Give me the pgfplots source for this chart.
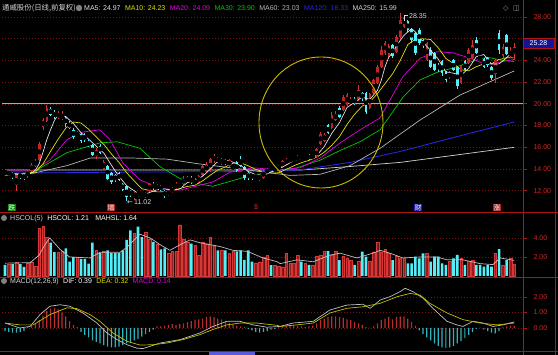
\documentclass[border=0pt]{standalone}
\usepackage{fontspec}
\setmainfont{Liberation Sans}
\newfontfamily\cjk{Noto Sans CJK SC}
\newfontfamily\djv{DejaVu Sans}
\usepackage{pgfplots}
\usepackage{pgfplotstable}
\pgfplotsset{compat=1.18}

\definecolor{upc}{RGB}{190,38,38}
\definecolor{upv}{RGB}{150,28,28}
\definecolor{upedge}{RGB}{215,55,55}
\definecolor{dnc}{RGB}{84,238,248}
\definecolor{macdup}{RGB}{185,45,45}
\definecolor{macddn}{RGB}{45,180,190}
\definecolor{axred}{RGB}{175,20,20}
\definecolor{gridred}{RGB}{125,20,20}
\definecolor{lblred}{RGB}{205,40,40}
\definecolor{ma5}{RGB}{225,225,225}
\definecolor{ma10}{RGB}{225,225,0}
\definecolor{ma20}{RGB}{225,0,225}
\definecolor{ma30}{RGB}{0,200,0}
\definecolor{ma60}{RGB}{180,180,180}
\definecolor{ma120}{RGB}{40,40,240}
\definecolor{ma250}{RGB}{210,210,210}
\definecolor{lvl}{RGB}{200,190,0}
\definecolor{boxblue}{RGB}{20,20,150}
\definecolor{txt}{RGB}{215,215,215}
\definecolor{sgreen}{RGB}{0,130,0}
\definecolor{sred}{RGB}{165,35,35}
\definecolor{sblue}{RGB}{30,30,170}
\definecolor{datebox}{RGB}{90,90,220}

\pgfplotstableread{
i o h l c v
1 13.5 13.8 13.4 13.7 1.2
3 12.5 13.5 12.0 13.4 1.45
6 13.3 13.9 13.2 13.8 1.4
7 13.8 14.5 13.7 14.4 1.5
8 14.3 14.9 14.2 14.7 1.0
9 14.8 16.5 14.7 16.3 5.0
10 17.9 18.7 17.6 18.5 5.2
11 18.4 19.9 18.3 19.6 4.1
14 18.8 19.3 18.6 19.1 2.5
15 18.6 19.3 18.5 19.0 2.6
19 17.0 17.5 16.9 17.3 2.0
24 15.2 15.9 14.9 15.7 2.7
26 14.0 14.8 13.9 14.6 2.6
34 11.4 11.9 11.1 11.8 4.5
37 11.4 11.9 11.3 11.8 4.6
38 12.0 12.7 11.9 12.6 3.9
40 12.2 12.6 12.1 12.4 3.4
43 11.6 12.1 11.5 11.9 2.4
44 11.9 12.3 11.8 12.2 2.6
45 12.2 12.8 12.1 12.6 2.6
46 12.3 12.7 12.2 12.6 5.4
47 12.6 13.3 12.5 13.1 3.9
48 12.8 13.3 12.7 13.2 3.6
50 12.6 13.2 12.4 13.0 3.2
51 12.8 13.4 12.7 13.3 2.2
52 13.4 14.4 13.3 14.3 3.6
53 13.8 14.6 13.6 14.4 3.4
54 13.8 15.0 13.7 14.9 4.1
55 14.7 15.4 14.5 15.2 3.2
57 14.6 15.0 14.4 14.8 2.7
59 14.3 14.9 14.2 14.8 2.4
60 14.0 14.4 13.9 14.3 2.6
66 13.2 13.5 13.1 13.4 1.4
67 13.1 13.5 12.9 13.4 1.5
68 13.2 13.9 13.1 13.8 2.0
69 13.6 14.1 13.5 14.0 2.2
71 13.9 14.2 13.8 14.0 1.15
72 13.9 14.4 13.8 14.3 1.0
73 14.2 14.8 14.1 14.7 0.98
74 14.5 15.0 14.4 14.9 2.39
75 14.7 15.0 14.6 14.9 1.33
76 14.7 15.1 14.6 15.0 1.33
77 14.8 15.3 14.7 15.1 2.21
79 14.9 15.3 14.8 15.2 1.33
81 15.0 15.4 14.9 15.3 1.16
82 15.1 15.9 15.0 15.8 2.04
83 16.3 17.4 16.2 17.2 2.21
84 16.6 17.3 16.5 17.1 2.63
86 17.8 19.2 17.7 19.0 2.21
87 18.5 19.3 18.4 19.1 2.63
89 19.4 20.8 19.3 20.6 2.04
90 19.9 21.0 19.8 20.8 1.86
91 20.0 20.6 19.9 20.4 1.68
93 20.4 21.7 20.3 21.3 1.51
96 19.6 21.0 19.5 20.9 1.51
97 21.0 22.3 20.9 22.2 2.56
98 21.9 23.6 21.8 23.4 3.6
99 23.4 25.3 23.3 25.0 2.56
100 24.7 25.8 24.5 25.6 2.84
101 24.5 25.5 24.3 25.3 2.39
103 24.8 26.3 24.7 26.2 2.04
104 26.2 28.35 26.0 27.7 1.86
105 27.1 28.2 27.0 28.0 1.86
111 24.0 25.7 23.9 25.6 2.39
117 22.5 23.0 22.3 22.8 1.51
120 21.9 23.6 21.8 23.5 1.86
122 23.8 25.1 23.7 25.0 1.51
123 24.2 25.9 24.1 25.4 1.68
129 22.7 24.1 21.9 24.0 2.39
131 24.4 25.5 24.1 25.2 1.16
133 24.4 25.2 24.2 24.8 1.86
134 24.6 25.6 24.0 25.28 1.21
}\up

\pgfplotstableread{
i o h l c v
0 13.8 13.9 13.5 13.6 1.16
2 13.6 13.7 13.1 13.3 1.25
4 13.5 13.6 13.1 13.3 1.25
5 13.4 13.5 13.0 13.2 0.95
12 19.5 19.7 18.9 19.0 3.5
13 19.2 19.4 18.6 18.9 2.5
16 18.8 18.9 17.9 18.1 2.9
17 18.2 18.4 17.7 17.8 1.5
18 17.6 17.8 16.8 16.9 2.0
20 17.2 17.3 16.4 16.6 1.8
21 17.1 17.3 16.5 16.7 1.8
22 16.5 16.7 16.0 16.2 1.3
23 16.2 16.3 15.2 15.3 3.5
25 16.1 16.3 15.4 15.5 2.4
27 14.3 14.4 13.0 13.1 2.7
28 13.6 13.7 12.6 12.8 2.4
29 13.4 13.5 12.8 13.0 2.4
30 13.6 13.7 12.9 13.0 2.4
31 12.6 12.7 12.0 12.1 2.7
32 12.4 12.4 11.02 11.4 3.8
33 12.0 12.1 11.4 11.6 4.8
35 11.8 11.9 11.4 11.5 5.2
36 11.7 11.8 11.3 11.4 4.1
39 12.6 12.8 12.1 12.2 3.6
41 12.4 12.5 12.0 12.1 2.8
42 12.0 12.1 11.3 11.5 2.9
49 13.2 13.3 12.6 12.8 3.4
56 15.0 15.1 14.5 14.7 2.7
58 14.8 14.9 14.4 14.5 2.7
61 14.6 14.7 13.7 13.8 2.6
62 14.8 15.2 14.2 14.3 2.7
63 14.2 14.3 13.0 13.2 1.7
64 13.6 13.7 13.0 13.2 2.7
65 13.5 13.6 13.0 13.2 1.5
70 14.2 14.3 13.8 13.9 1.15
78 15.2 15.3 14.8 14.9 1.51
80 15.3 15.4 14.8 14.9 1.16
85 18.0 18.1 17.2 17.3 2.63
88 19.6 19.8 18.7 18.8 1.68
92 20.4 20.6 19.9 20.1 1.16
94 21.0 21.1 20.3 20.5 2.56
95 21.0 21.1 19.1 19.2 2.04
102 25.4 25.5 24.2 24.4 1.68
106 27.6 27.7 26.6 26.8 1.33
107 26.9 27.0 25.6 25.9 1.33
108 26.5 26.6 24.5 24.7 2.04
109 26.8 27.0 25.4 25.6 1.86
110 25.9 26.0 25.1 25.3 2.39
112 25.0 25.2 23.3 23.4 1.51
113 24.7 24.8 23.0 23.1 2.04
114 23.6 23.8 22.9 23.2 2.04
115 23.9 24.0 22.6 22.8 1.33
116 22.9 23.0 22.0 22.2 1.16
118 24.0 24.1 23.0 23.1 1.86
119 23.4 23.5 21.4 21.6 2.21
121 23.9 24.0 23.0 23.1 1.16
124 25.9 26.2 24.6 24.7 1.16
125 24.3 24.4 24.0 24.2 1.16
126 24.1 24.2 23.3 23.4 0.98
127 24.2 24.3 23.4 23.6 1.16
128 23.4 23.5 22.2 22.4 0.98
130 26.5 26.8 24.6 25.0 2.84
132 26.3 26.4 24.5 24.6 1.68
}\down

\pgfplotstableread{
i m
0 -0.2
1 -0.25
2 -0.3
3 -0.3
4 -0.25
5 -0.2
6 0.05
7 0.15
8 0.3
9 0.5
10 0.8
11 1.1
12 1.25
13 1.3
14 1.2
15 1.0
16 0.75
17 0.45
18 0.2
19 0.05
20 -0.25
21 -0.45
22 -0.6
23 -0.8
24 -0.9
25 -1.0
26 -1.1
27 -1.2
28 -1.25
29 -1.25
30 -1.2
31 -1.1
32 -1.0
33 -0.95
34 -0.8
35 -0.7
36 -0.55
37 -0.4
38 -0.25
39 -0.1
40 0.1
41 0.1
42 0.15
43 0.2
44 0.25
45 0.2
46 0.25
47 0.3
48 0.4
49 0.45
50 0.5
51 0.55
52 0.6
53 0.7
54 0.75
55 0.7
56 0.6
57 0.55
58 0.45
59 0.35
60 0.25
61 0.15
62 0.1
63 0.05
64 -0.05
65 -0.15
66 -0.25
67 -0.3
68 -0.25
69 -0.2
70 -0.1
71 -0.05
72 0.05
73 0.1
74 0.12
75 0.15
76 0.15
77 0.12
78 0.1
79 0.08
80 0.1
81 0.15
82 0.3
83 0.5
84 0.6
85 0.7
86 0.75
87 0.75
88 0.7
89 0.65
90 0.55
91 0.5
92 0.4
93 0.3
94 0.2
95 0.05
96 0.02
97 0.1
98 0.3
99 0.5
100 0.6
101 0.7
102 0.55
103 0.7
104 0.75
105 0.75
106 0.6
107 0.4
108 0.15
109 -0.15
110 -0.4
111 -0.6
112 -0.8
113 -1.0
114 -1.15
115 -1.25
116 -1.3
117 -1.25
118 -1.15
119 -1.0
120 -0.85
121 -0.65
122 -0.45
123 -0.25
124 -0.05
125 0.02
126 -0.1
127 -0.2
128 -0.3
129 -0.35
130 -0.2
131 0.05
132 0.1
133 0.15
134 0.14
}\macd

\newcommand\tf{\fontsize{7.4}{9}\selectfont}
\newcommand\smf{\fontsize{7}{8.5}\selectfont}
\newcommand\lf{\fontsize{7}{8}\selectfont}

\pgfplotsset{
  panel/.style={
    scale only axis, width=521pt, xmin=-0.79, xmax=136.3,
    anchor=south west, clip=false,
    axis line style={draw=none},
    xtick=\empty,
    ytick pos=right, yticklabel pos=right,
    tick align=outside, major tick length=4pt,
    ytick style={draw=axred, line width=0.6pt},
    ymajorgrids, major grid style={gridred, dash pattern=on 1pt off 2pt, line width=0.5pt},
    yticklabel style={font=\lf, text=lblred, /pgf/number format/.cd, fixed, fixed zerofill, precision=2, assume math mode=true},
    yticklabel shift=3pt,
  },
  wick/.style={only marks, mark=none, forget plot,
    error bars/.cd, y dir=both, y explicit, error mark=none,
    error bar style={line width=0.7pt, draw=#1}},
  body/.style={only marks, mark=none, forget plot,
    error bars/.cd, y dir=both, y explicit, error mark=none,
    error bar style={line width=2.6pt, draw=#1}},
}

\begin{document}
\begin{tikzpicture}[x=1pt,y=1pt]
\fill[black] (0,0) rectangle (558,355);

% ---------------- price panel ----------------
\begin{axis}[panel, at={(2pt,143pt)}, height=202pt, ymin=10.028, ymax=28.645,
  ytick={12,14,16,18,20,22,24,28}, extra y ticks={26}, extra y tick labels={},
  extra y tick style={grid=major}]
\addplot[lvl, line width=1.2pt, forget plot] coordinates {(-0.79,20) (136.3,20)};
% MA250
\addplot[ma250, line width=0.7pt] coordinates {(0,13.9) (40,13.9) (78,13.9) (90,14.2) (104,14.6) (117,15.2) (134,15.99)};
% MA120
\addplot[ma120, line width=0.8pt] coordinates {(0,13.6) (30,13.7) (60,13.75) (77.6,13.9) (90.8,14.6) (103.9,15.6) (117,16.8) (134,18.33)};
% MA60
\addplot[ma60, line width=0.7pt] coordinates {(0,13.4) (7.4,13.6) (16.3,14.3) (22.4,15.0) (33.7,15.0) (42.6,14.9) (51.3,14.45) (61.8,14.0) (75,13.4) (82.9,13.5) (90.8,14.3) (98.7,15.9) (109.2,18.5) (119.7,20.8) (134,23.03)};
% MA30
\addplot[ma30, line width=0.7pt] coordinates {(0,13.4) (7.4,13.7) (16.3,15.5) (25,16.4) (29.5,16.5) (35.5,15.9) (40.8,14.2) (46.1,13.1) (51.3,12.6) (54.7,12.4) (63.7,13.3) (72.4,13.9) (76.8,14.1) (82.9,14.8) (88.2,15.7) (93.4,16.5) (98.7,17.6) (104.7,20.6) (109.2,22.2) (113.7,22.9) (117.9,23.3) (122.4,23.85) (126.8,24.3) (131,24.0) (134,23.9)};
% MA20
\addplot[ma20, line width=0.7pt] coordinates {(0,13.8) (7.4,13.8) (11.8,14.8) (16.3,16.7) (20.5,17.4) (25,17.6) (27.6,16.7) (31.1,14.5) (35.5,13.0) (40.8,12.2) (46.1,12.05) (51.3,12.5) (54.7,12.8) (59.2,13.7) (65.3,14.1) (72.4,13.9) (77.6,14.1) (82.9,15.0) (88.2,16.4) (93.4,17.6) (98.7,18.7) (104.7,22.5) (109.2,24.2) (113.7,24.8) (117.9,24.7) (122.4,24.2) (126.8,23.6) (131,23.9) (134,24.09)};
% MA10
\addplot[ma10, line width=0.7pt] coordinates {(0,13.6) (4,13.53) (8,13.7) (10,14.46) (12,15.62) (14,16.75) (16,17.76) (18,18.32) (20,18.23) (22,17.66) (24,16.96) (26,16.26) (28,15.38) (30,14.59) (32,13.65) (34,12.89) (36,12.17) (38,12.02) (40,11.88) (42,11.89) (44,11.96) (46,12.19) (48,12.38) (50,12.5) (52,12.9) (54,13.42) (56,13.89) (58,14.19) (60,14.52) (62,14.57) (64,14.28) (66,13.95) (68,13.74) (70,13.62) (72,13.64) (74,13.96) (76,14.29) (78,14.57) (80,14.79) (82,15.07) (84,15.54) (86,16.18) (88,16.97) (90,18.1) (92,19.04) (94,19.79) (96,20.17) (98,20.94) (100,21.86) (102,22.78) (104,23.99) (106,25.46) (108,25.96) (110,25.99) (112,25.92) (114,25.16) (116,24.18) (118,23.71) (120,23.13) (122,23.04) (124,23.42) (126,23.68) (128,23.69) (130,24.08) (132,24.25) (134,24.23)};
% candles
\addplot[wick=dnc] table[x=i, y expr={(\thisrow{h}+\thisrow{l})/2}, y error expr={(\thisrow{h}-\thisrow{l})/2}] {\down};
\addplot[body=dnc] table[x=i, y expr={(\thisrow{o}+\thisrow{c})/2}, y error expr={max(abs(\thisrow{o}-\thisrow{c})/2,0.04)}] {\down};
\addplot[wick=upedge] table[x=i, y expr={(\thisrow{h}+\thisrow{l})/2}, y error expr={(\thisrow{h}-\thisrow{l})/2}] {\up};
\addplot[body=upc] table[x=i, y expr={(\thisrow{o}+\thisrow{c})/2}, y error expr={max(abs(\thisrow{o}-\thisrow{c})/2,0.04)}] {\up};
% MA5
\addplot[ma5, line width=0.7pt] coordinates {(0,13.6) (2,13.56) (4,13.46) (6,13.4) (8,13.88) (9,14.48) (10,15.54) (11,16.7) (12,17.62) (13,18.46) (14,19.02) (16,18.82) (18,18.18) (20,17.34) (22,16.74) (24,16.1) (26,15.46) (28,14.34) (30,13.3) (32,12.46) (34,11.98) (36,11.54) (38,11.82) (40,12.08) (42,12.16) (44,12.02) (46,12.16) (48,12.74) (50,12.94) (52,13.32) (54,13.98) (56,14.7) (58,14.82) (60,14.62) (62,14.34) (64,13.76) (66,13.46) (68,13.4) (70,13.7) (72,14.0) (74,14.36) (76,14.76) (78,14.96) (80,15.02) (82,15.22) (84,16.06) (86,17.28) (88,18.26) (90,19.66) (92,20.14) (94,20.62) (96,20.4) (97,20.82) (98,21.24) (99,22.14) (100,23.42) (101,24.3) (102,24.74) (103,25.3) (104,25.84) (105,26.32) (106,26.62) (107,26.92) (108,26.62) (109,26.2) (110,25.66) (112,24.92) (114,24.12) (116,22.94) (118,22.82) (120,22.64) (122,23.26) (124,24.34) (126,24.54) (128,23.66) (130,23.68) (132,24.24) (134,24.97)};
\end{axis}

% ---------------- volume panel ----------------
\begin{axis}[panel, at={(2pt,78pt)}, height=65pt, ymin=-0.105, ymax=6.737, ytick={2,4}]
\addplot[ybar, bar width=2.6pt, bar shift=0pt, fill=upv, draw=upedge, line width=0.3pt, forget plot] table[x=i, y=v] {\up};
\addplot[ybar, bar width=2.6pt, bar shift=0pt, fill=dnc, draw=none, forget plot] table[x=i, y=v] {\down};
\addplot[ma5!85!black, line width=0.7pt] coordinates {(0,1.35) (6.6,1.4) (9,2.2) (10.5,3.3) (11.8,4.0) (14.5,2.8) (17,2.0) (22.4,1.9) (25,2.5) (30.3,2.5) (32,3.0) (35.5,4.4) (38.2,4.0) (40.8,3.3) (43.4,2.7) (46.1,3.3) (48.7,3.8) (51.3,3.5) (53.9,3.3) (56.6,3.1) (60,2.7) (63.7,2.6) (67.9,1.9) (71.6,1.5) (72.4,1.3) (76.8,1.7) (81.1,1.5) (85.5,2.2) (88.2,2.4) (92.6,1.9) (96.8,2.4) (98.7,2.7) (101.3,2.4) (104.7,1.9) (109.2,2.0) (113.7,2.0) (116.3,1.7) (120.5,1.7) (125,1.3) (128.4,1.2) (130.3,1.9) (134,1.64)};
\end{axis}

% ---------------- MACD panel ----------------
\begin{axis}[panel, at={(2pt,4pt)}, height=74pt, ymin=-1.484, ymax=3.29, ytick={0,1,2}]
\addplot[ybar, bar width=1.2pt, bar shift=0pt, fill=macdup, draw=none, restrict y to domain=0:10, forget plot] table[x=i, y=m] {\macd};
\addplot[ybar, bar width=1.2pt, bar shift=0pt, fill=macddn, draw=none, restrict y to domain=-10:0, forget plot] table[x=i, y=m] {\macd};
\addplot[ma5!85!black, line width=0.7pt] coordinates {(0,0.32) (3.9,0.0) (6.6,0.1) (9.2,0.86) (11.8,1.4) (14.5,1.5) (17.1,1.4) (20.5,0.97) (24.2,0.32) (26.8,-0.32) (29.5,-0.75) (32.1,-1.08) (34.7,-1.3) (36.3,-1.33) (38.2,-1.18) (40.8,-0.97) (46.1,-0.75) (51.3,-0.32) (54.7,0.1) (58.4,0.43) (61.8,0.43) (65.3,0.2) (68.9,0.05) (72.4,0.1) (75.8,0.32) (81.1,0.43) (85.5,1.16) (90,1.48) (94.2,1.53) (96.1,1.27) (98.7,1.8) (101.3,2.02) (103.9,2.34) (105.3,2.56) (107.4,2.34) (110,1.92) (112.6,1.27) (116.3,0.43) (118.9,0.2) (120.5,0.1) (123.2,0.43) (125.8,0.32) (128.4,0.1) (131,0.2) (134,0.39)};
\addplot[ma10!85!black, line width=0.7pt] coordinates {(0,0.32) (3.9,0.2) (7.4,0.2) (11.8,0.86) (16.3,1.3) (18.9,1.25) (22.4,0.86) (25,0.43) (28.4,-0.32) (32.1,-0.86) (35.5,-1.1) (38.9,-1.08) (42.6,-0.97) (46.8,-0.75) (51.3,-0.43) (54.7,-0.1) (58.4,0.2) (61.8,0.32) (66.3,0.32) (71.6,0.17) (72.4,0.1) (76.8,0.2) (81.1,0.32) (85.5,0.97) (90,1.27) (94.2,1.37) (98.7,1.59) (103.2,2.02) (106.6,2.23) (109.2,2.13) (111.8,1.59) (116.3,0.97) (120.5,0.54) (125,0.32) (129.5,0.2) (134,0.32)};
\end{axis}

% ---------------- frame lines ----------------
\draw[axred, line width=0.8pt] (0,143) -- (558,143);
\draw[axred, line width=0.8pt] (0,78) -- (558,78);
\draw[axred, line width=0.8pt] (0,3.5) -- (558,3.5);
\draw[axred, line width=0.8pt] (523,0) -- (523,355);
\draw[axred, line width=0.8pt] (555,0) -- (555,355);

% price box
\node[fill=boxblue, draw=axred, line width=0.4pt, text=white, inner sep=1pt, minimum width=31pt, minimum height=10pt, font=\lf] at (538.5,312) {25.28};

% ellipse annotation
\draw[lvl, line width=0.9pt] (321,232.5) ellipse [x radius=62pt, y radius=65.5pt];

% titles
\node[anchor=base west, text=txt, inner sep=0pt] at (2,344.5) {\tf\cjk 通威股份(日线,前复权)};
\fill[gray] (79,347) circle (3.2pt);
\node[anchor=base west, text=ma5, inner sep=0pt] (t1) at (84,344.5) {\smf MA5: 24.97};
\node[anchor=base west, text=ma10, inner sep=0pt] (t2) at ([xshift=4pt]t1.base east) {\smf MA10: 24.23};
\node[anchor=base west, text=ma20, inner sep=0pt] (t3) at ([xshift=4pt]t2.base east) {\smf MA20: 24.09};
\node[anchor=base west, text=ma30, inner sep=0pt] (t4) at ([xshift=4pt]t3.base east) {\smf MA30: 23.90};
\node[anchor=base west, text=ma60, inner sep=0pt] (t5) at ([xshift=4pt]t4.base east) {\smf MA60: 23.03};
\node[anchor=base west, text=ma120, inner sep=0pt] (t6) at ([xshift=4pt]t5.base east) {\smf MA120: 18.33};
\node[anchor=base west, text=ma250, inner sep=0pt] (t7) at ([xshift=4pt]t6.base east) {\smf MA250: 15.99};
\node[anchor=base west, text=gray!80, inner sep=0pt] at (503,344.5) {\smf\djv ◇};
\node[anchor=base west, text=gray!80, inner sep=0pt] at (513,344.5) {\smf\djv ◫};

% high / low labels
\draw[txt, line width=0.5pt] (404,334) -- (404,339.5) -- (408,339.5);
\node[anchor=west, text=txt, inner sep=0pt] at (409,339) {\smf 28.35};
\node[anchor=west, text=txt, inner sep=0pt] at (127,153) {\smf\djv ←\,\rmfamily 11.02};

% signal labels
\node[fill=sgreen, text=white, inner sep=0.6pt] at (12,147.5) {\lf\cjk 跌};
\node[fill=sred, text=white, inner sep=0.6pt] at (111,147.5) {\lf\cjk 增};
\node[text=lblred, inner sep=0.6pt] at (256,147.5) {\lf \$};
\node[fill=sblue, text=white, inner sep=0.6pt] at (418,147.5) {\lf\cjk 财};
\node[fill=sred, text=white, inner sep=0.6pt] at (497,147.5) {\lf\cjk 涨};

% volume title
\fill[gray] (4,137) circle (3pt);
\node[anchor=base west, text=txt, inner sep=0pt] (h1) at (10,134.5) {\smf HSCOL(5)};
\node[anchor=base west, text=white, inner sep=0pt] (h2) at ([xshift=4pt]h1.base east) {\smf HSCOL: 1.21};
\node[anchor=base west, text=white, inner sep=0pt] at ([xshift=6pt]h2.base east) {\smf MAHSL: 1.64};

% MACD title
\fill[gray] (4,74) circle (3pt);
\node[anchor=base west, text=txt, inner sep=0pt] (m1) at (10,71.5) {\smf MACD(12,26,9)};
\node[anchor=base west, text=white, inner sep=0pt] (m2) at ([xshift=4pt]m1.base east) {\smf DIF: 0.39};
\node[anchor=base west, text=ma10, inner sep=0pt] (m3) at ([xshift=4pt]m2.base east) {\smf DEA: 0.32};
\node[anchor=base west, text=ma20, inner sep=0pt] at ([xshift=4pt]m3.base east) {\smf MACD: 0.14};

% bottom date box
\fill[datebox] (209,0) rectangle (255,3);

\pgfresetboundingbox
\path[use as bounding box] (0,0) rectangle (558,355);
\end{tikzpicture}
\end{document}
